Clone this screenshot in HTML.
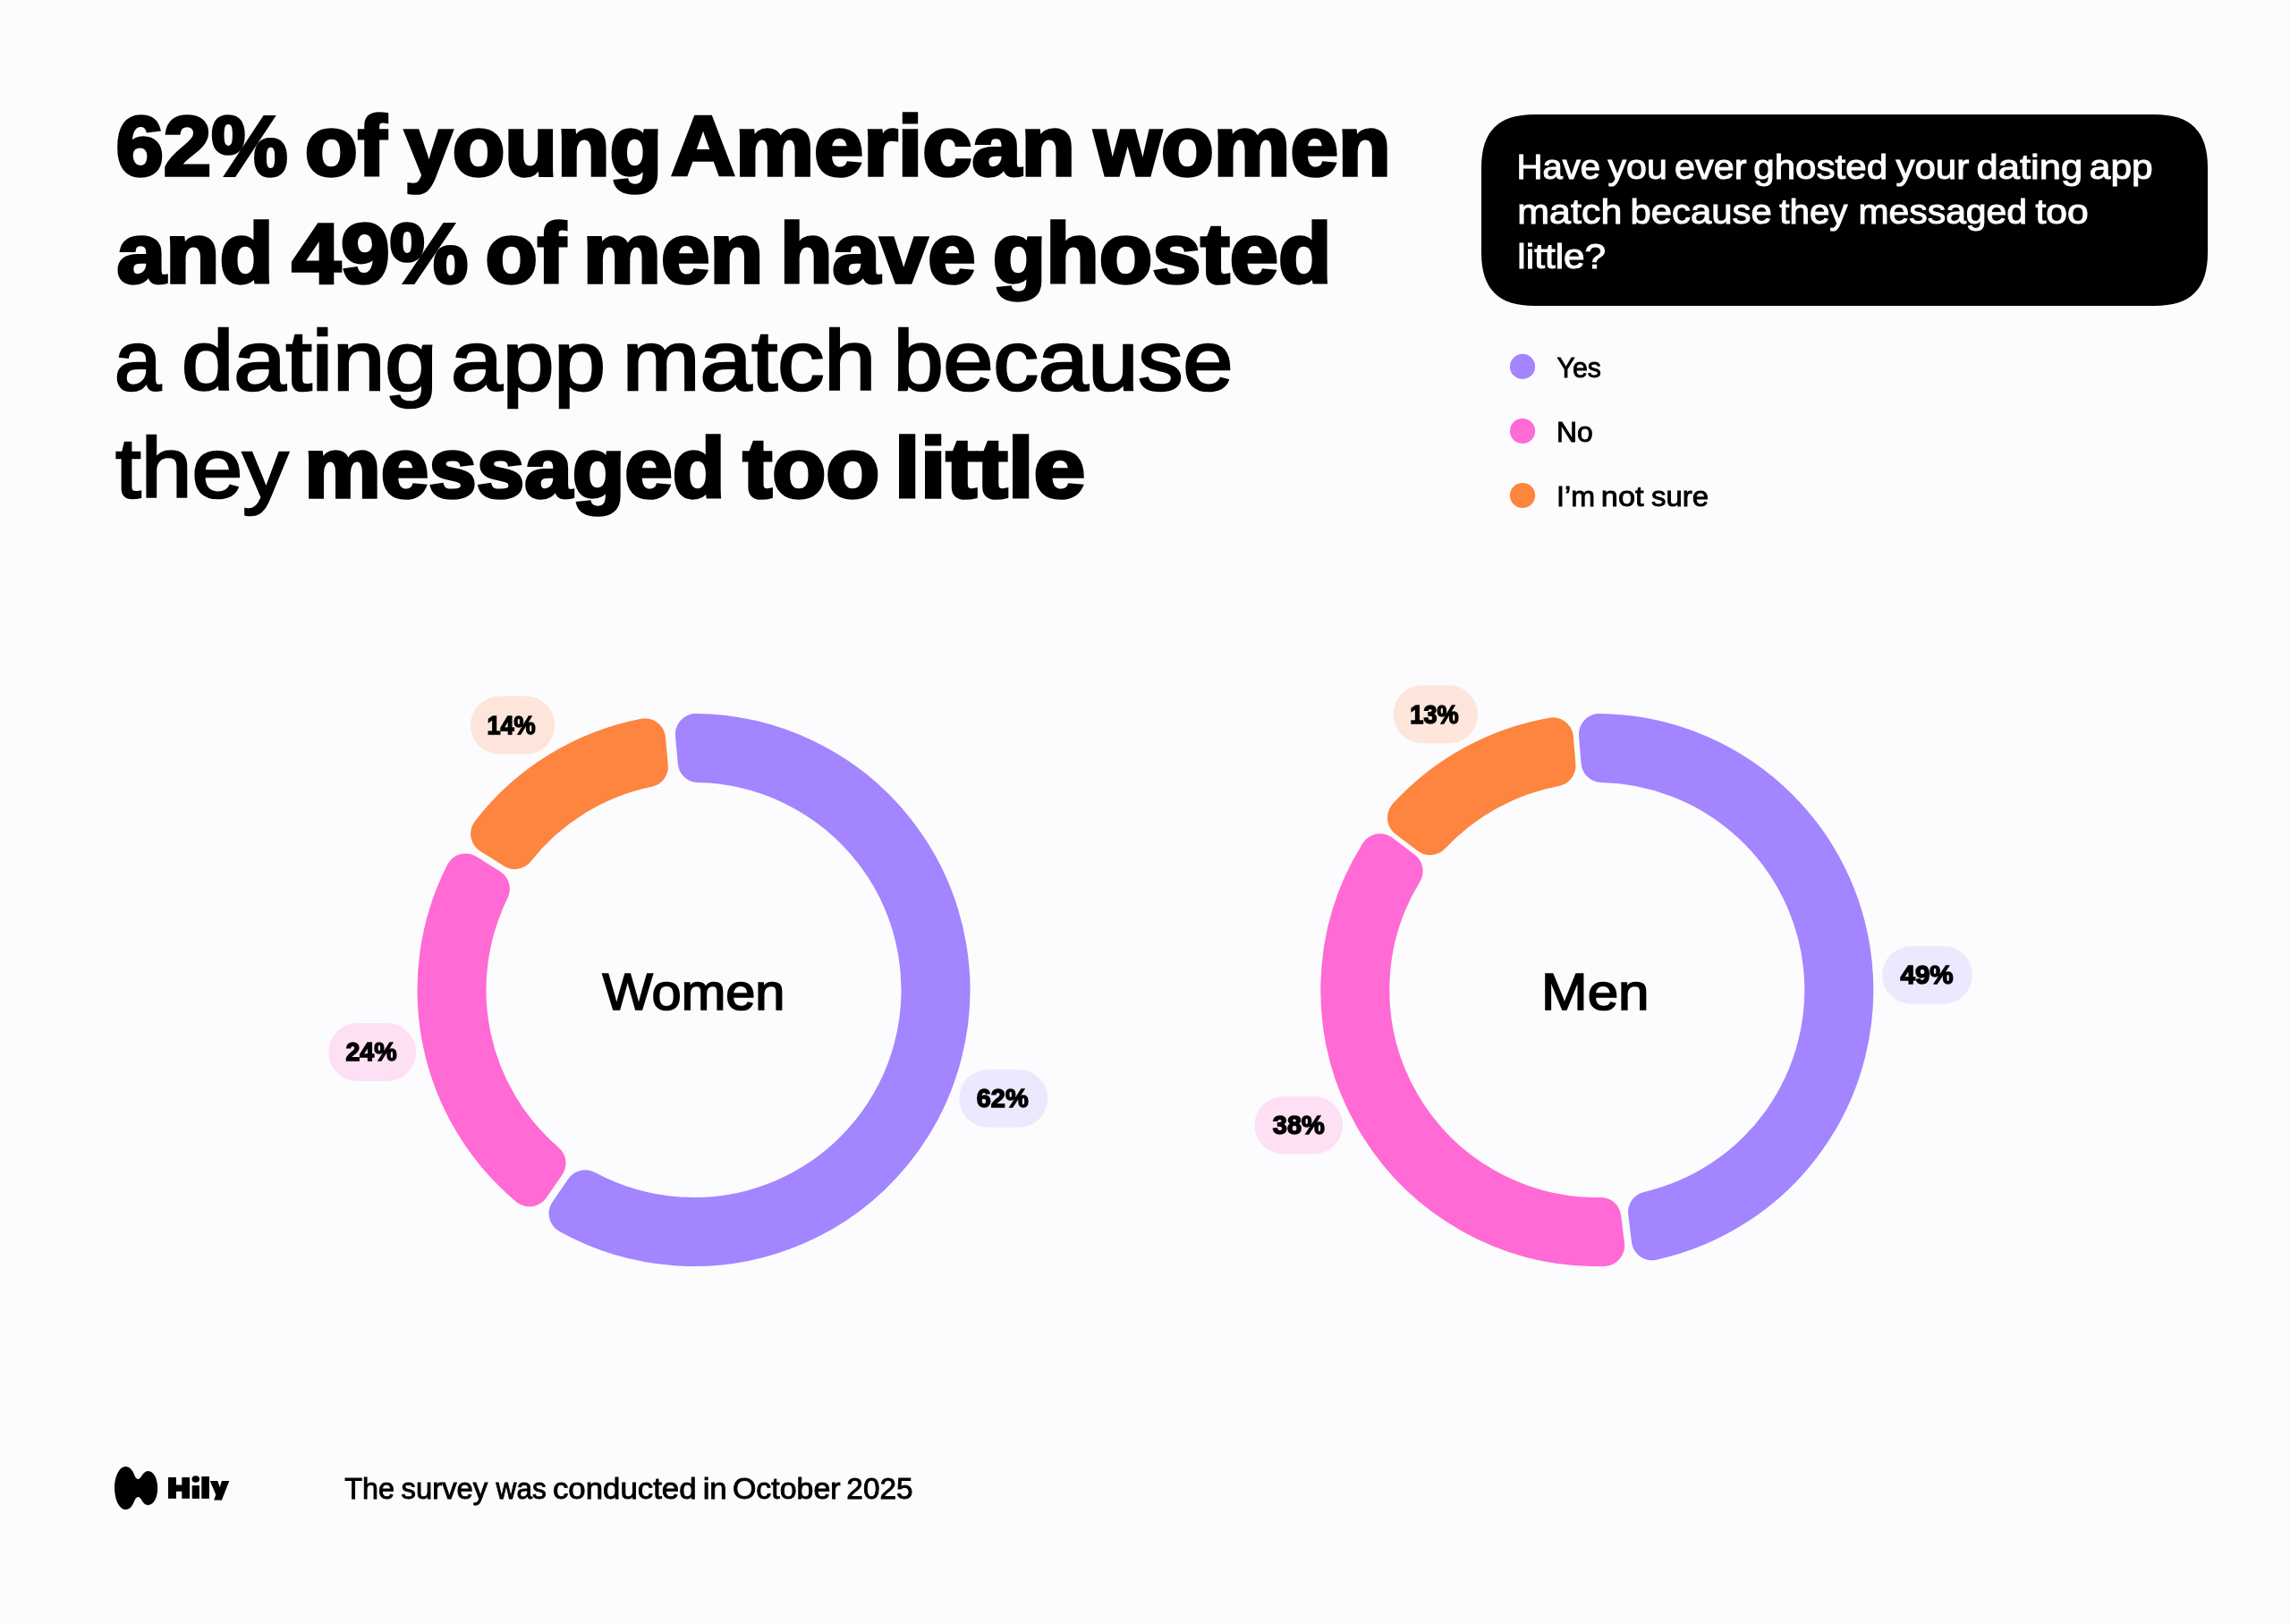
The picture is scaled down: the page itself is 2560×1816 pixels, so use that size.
<!DOCTYPE html>
<html lang="en"><head><meta charset="utf-8"><title>Hily survey</title>
<style>html,body{margin:0;padding:0;background:#fcfcfe;}body{width:2560px;height:1816px;overflow:hidden;font-family:"Liberation Sans",sans-serif;}svg text{white-space:pre;}</style></head>
<body>
<svg width="2560" height="1816" viewBox="0 0 2560 1816" font-family='"Liberation Sans", sans-serif' style="display:block;will-change:transform">
<rect width="2560" height="1816" fill="#fcfcfe"/>
<path d="M1656 187.5C1656 146.86 1674.86 128 1715.5 128L2408.5 128C2449.14 128 2468 146.86 2468 187.5L2468 282.5C2468 323.14 2449.14 342 2408.5 342L1715.5 342C1674.86 342 1656 323.14 1656 282.5Z" fill="#000"/>
<circle cx="1702.05" cy="409.9" r="14.1" fill="#a285ff"/>
<circle cx="1702.05" cy="482.0" r="14.1" fill="#ff6ad5"/>
<circle cx="1702.05" cy="554.0" r="14.1" fill="#fe853f"/>
<path d="M777.89 821.01A286.00 286.00 0 1 1 636.57 1356.99L654.22 1331.31A255.00 255.00 0 1 0 780.74 852.05Z" fill="#a285ff" stroke="#a285ff" stroke-width="46.0" stroke-linejoin="round"/>
<path d="M591.90 1326.29A286.00 286.00 0 0 1 520.54 977.41L546.88 994.06A255.00 255.00 0 0 0 609.55 1300.61Z" fill="#ff6ad5" stroke="#ff6ad5" stroke-width="46.0" stroke-linejoin="round"/>
<path d="M549.08 932.27A286.00 286.00 0 0 1 721.03 826.23L723.88 857.28A255.00 255.00 0 0 0 575.41 948.92Z" fill="#fe853f" stroke="#fe853f" stroke-width="46.0" stroke-linejoin="round"/>
<path d="M1787.98 821.01A286.00 286.00 0 0 1 1846.85 1386.30L1843.05 1355.37A255.00 255.00 0 0 0 1790.53 852.05Z" fill="#a285ff" stroke="#a285ff" stroke-width="46.0" stroke-linejoin="round"/>
<path d="M1793.15 1392.89A286.00 286.00 0 0 1 1542.88 955.26L1567.68 974.08A255.00 255.00 0 0 0 1789.35 1361.97Z" fill="#ff6ad5" stroke="#ff6ad5" stroke-width="46.0" stroke-linejoin="round"/>
<path d="M1573.95 914.31A286.00 286.00 0 0 1 1735.95 825.29L1738.50 856.33A255.00 255.00 0 0 0 1598.76 933.14Z" fill="#fe853f" stroke="#fe853f" stroke-width="46.0" stroke-linejoin="round"/>
<rect x="525.9" y="778.6" width="94.3" height="64.8" rx="32.4" fill="#fde5db"/>
<rect x="367.3" y="1144.1" width="97.9" height="64.8" rx="32.4" fill="#fde0f4"/>
<rect x="1072.2" y="1195.9" width="99.0" height="64.9" rx="32.4" fill="#ede8fd"/>
<rect x="1557.7" y="766.3" width="94.4" height="65.0" rx="32.5" fill="#fde5db"/>
<rect x="2104.1" y="1058.0" width="100.7" height="64.8" rx="32.4" fill="#ede8fd"/>
<rect x="1402.5" y="1225.9" width="98.6" height="64.6" rx="32.3" fill="#fde0f4"/>
<g fill="#000">
<path d="M140.3 1640.1C146.5 1640.1 149 1646.5 150.7 1650.5C152 1653.2 153.2 1653.9 154.5 1653.9C156.2 1653.9 157.5 1652 158.6 1650.1C160.5 1647 162.5 1645 165.9 1645C171.6 1645 176.2 1653.5 176.2 1664C176.2 1674.5 171.6 1683 165.9 1683C162.5 1683 160.5 1681 158.6 1677.9C157.5 1676 156.2 1674.1 154.5 1674.1C153.2 1674.1 152 1674.8 150.7 1677.5C149 1681.5 146.5 1688 140.3 1688C133.6 1688 128.1 1677.25 128.1 1664C128.1 1650.75 133.6 1640.1 140.3 1640.1Z"/>
<path d="M188 1652.1H196.95V1660.5H203.3V1652.1H212.1V1675.8H203.3V1667.7H196.95V1675.8H188Z"/>
<ellipse cx="218.75" cy="1654.1" rx="4.25" ry="3.75"/>
<rect x="214.7" y="1661.1" width="8.2" height="14.7"/>
<rect x="225.3" y="1651" width="8.6" height="24.8"/>
<path d="M234.8 1656H243.3L245.7 1662.9L247.9 1656H256.3L247.9 1677.6H239.1L241.3 1671.5Z"/>
</g>
<text transform="translate(129.47 196.00) scale(1.0211 1.0)" font-size="94" font-weight="700" fill="#000" stroke="#000" stroke-width="3.6" stroke-linejoin="miter" stroke-miterlimit="2.5">62%</text>
<text transform="translate(340.87 196.00) scale(1.0287 1.0)" font-size="94" font-weight="700" fill="#000" stroke="#000" stroke-width="3.6" stroke-linejoin="miter" stroke-miterlimit="2.5">of</text>
<text transform="translate(452.24 196.00) scale(1.0213 1.0)" font-size="94" font-weight="700" fill="#000" stroke="#000" stroke-width="3.6" stroke-linejoin="miter" stroke-miterlimit="2.5">young</text>
<text transform="translate(750.29 196.00) scale(1.0546 1.0)" font-size="94" font-weight="700" fill="#000" stroke="#000" stroke-width="3.6" stroke-linejoin="miter" stroke-miterlimit="2.5">American</text>
<text transform="translate(1223.17 196.00) scale(1.0242 1.0)" font-size="94" font-weight="700" fill="#000" stroke="#000" stroke-width="3.6" stroke-linejoin="miter" stroke-miterlimit="2.5">women</text>
<text transform="translate(130.49 315.50) scale(1.0484 1.0)" font-size="94" font-weight="700" fill="#000" stroke="#000" stroke-width="3.6" stroke-linejoin="miter" stroke-miterlimit="2.5">and</text>
<text transform="translate(326.14 315.50) scale(1.0473 1.0)" font-size="94" font-weight="700" fill="#000" stroke="#000" stroke-width="3.6" stroke-linejoin="miter" stroke-miterlimit="2.5">49%</text>
<text transform="translate(542.48 315.50) scale(1.0165 1.0)" font-size="94" font-weight="700" fill="#000" stroke="#000" stroke-width="3.6" stroke-linejoin="miter" stroke-miterlimit="2.5">of</text>
<text transform="translate(651.82 315.50) scale(1.0423 1.0)" font-size="94" font-weight="700" fill="#000" stroke="#000" stroke-width="3.6" stroke-linejoin="miter" stroke-miterlimit="2.5">men</text>
<text transform="translate(871.92 315.50) scale(1.0202 1.0)" font-size="94" font-weight="700" fill="#000" stroke="#000" stroke-width="3.6" stroke-linejoin="miter" stroke-miterlimit="2.5">have</text>
<text transform="translate(1109.66 315.50) scale(1.0363 1.0)" font-size="94" font-weight="700" fill="#000" stroke="#000" stroke-width="3.6" stroke-linejoin="miter" stroke-miterlimit="2.5">ghosted</text>
<text transform="translate(128.01 436.00) scale(0.9961 1.0)" font-size="94" font-weight="400" fill="#000" stroke="#000" stroke-width="2.6" stroke-linejoin="miter" stroke-miterlimit="2.5">a</text>
<text transform="translate(202.90 436.00) scale(1.1161 1.0)" font-size="94" font-weight="400" fill="#000" stroke="#000" stroke-width="2.6" stroke-linejoin="miter" stroke-miterlimit="2.5">dating</text>
<text transform="translate(504.02 436.00) scale(1.1022 1.0)" font-size="94" font-weight="400" fill="#000" stroke="#000" stroke-width="2.6" stroke-linejoin="miter" stroke-miterlimit="2.5">app</text>
<text transform="translate(695.70 436.00) scale(1.1072 1.0)" font-size="94" font-weight="400" fill="#000" stroke="#000" stroke-width="2.6" stroke-linejoin="miter" stroke-miterlimit="2.5">match</text>
<text transform="translate(998.68 436.00) scale(1.0688 1.0)" font-size="94" font-weight="400" fill="#000" stroke="#000" stroke-width="2.6" stroke-linejoin="miter" stroke-miterlimit="2.5">because</text>
<text transform="translate(129.33 555.50) scale(1.0855 1.0)" font-size="94" font-weight="400" fill="#000" stroke="#000" stroke-width="2.6" stroke-linejoin="miter" stroke-miterlimit="2.5">they</text>
<text transform="translate(340.20 555.50) scale(1.0232 1.0)" font-size="94" font-weight="700" fill="#000" stroke="#000" stroke-width="3.6" stroke-linejoin="miter" stroke-miterlimit="2.5">messaged</text>
<text transform="translate(830.54 555.50) scale(1.0460 1.0)" font-size="94" font-weight="700" fill="#000" stroke="#000" stroke-width="3.6" stroke-linejoin="miter" stroke-miterlimit="2.5">too</text>
<text transform="translate(999.76 555.50) scale(1.1058 1.0)" font-size="94" font-weight="700" fill="#000" stroke="#000" stroke-width="3.6" stroke-linejoin="miter" stroke-miterlimit="2.5">little</text>
<text transform="translate(1695.43 199.90) scale(1.0291 1.0)" font-size="39" font-weight="400" fill="#fff" stroke="#fff" stroke-width="1.0" stroke-linejoin="miter" stroke-miterlimit="2.5">Have</text>
<text transform="translate(1797.53 199.90) scale(1.0548 1.0)" font-size="39" font-weight="400" fill="#fff" stroke="#fff" stroke-width="1.0" stroke-linejoin="miter" stroke-miterlimit="2.5">you</text>
<text transform="translate(1871.97 199.90) scale(1.0609 1.0)" font-size="39" font-weight="400" fill="#fff" stroke="#fff" stroke-width="1.0" stroke-linejoin="miter" stroke-miterlimit="2.5">ever</text>
<text transform="translate(1960.26 199.90) scale(1.0803 1.0)" font-size="39" font-weight="400" fill="#fff" stroke="#fff" stroke-width="1.0" stroke-linejoin="miter" stroke-miterlimit="2.5">ghosted</text>
<text transform="translate(2119.44 199.90) scale(1.0783 1.0)" font-size="39" font-weight="400" fill="#fff" stroke="#fff" stroke-width="1.0" stroke-linejoin="miter" stroke-miterlimit="2.5">your</text>
<text transform="translate(2209.54 199.90) scale(1.1160 1.0)" font-size="39" font-weight="400" fill="#fff" stroke="#fff" stroke-width="1.0" stroke-linejoin="miter" stroke-miterlimit="2.5">dating</text>
<text transform="translate(2335.75 199.90) scale(1.0904 1.0)" font-size="39" font-weight="400" fill="#fff" stroke="#fff" stroke-width="1.0" stroke-linejoin="miter" stroke-miterlimit="2.5">app</text>
<text transform="translate(1696.35 250.10) scale(1.1013 1.0)" font-size="39" font-weight="400" fill="#fff" stroke="#fff" stroke-width="1.0" stroke-linejoin="miter" stroke-miterlimit="2.5">match</text>
<text transform="translate(1822.49 250.10) scale(1.0742 1.0)" font-size="39" font-weight="400" fill="#fff" stroke="#fff" stroke-width="1.0" stroke-linejoin="miter" stroke-miterlimit="2.5">because</text>
<text transform="translate(1989.22 250.10) scale(1.0357 1.0)" font-size="39" font-weight="400" fill="#fff" stroke="#fff" stroke-width="1.0" stroke-linejoin="miter" stroke-miterlimit="2.5">they</text>
<text transform="translate(2077.43 250.10) scale(1.0488 1.0)" font-size="39" font-weight="400" fill="#fff" stroke="#fff" stroke-width="1.0" stroke-linejoin="miter" stroke-miterlimit="2.5">messaged</text>
<text transform="translate(2275.45 250.10) scale(1.0949 1.0)" font-size="39" font-weight="400" fill="#fff" stroke="#fff" stroke-width="1.0" stroke-linejoin="miter" stroke-miterlimit="2.5">too</text>
<text transform="translate(1696.37 300.20) scale(1.0844 1.0)" font-size="39" font-weight="400" fill="#fff" stroke="#fff" stroke-width="1.0" stroke-linejoin="miter" stroke-miterlimit="2.5">little?</text>
<text transform="translate(1740.53 421.70) scale(0.9605 1.0)" font-size="31.5" font-weight="400" fill="#000" stroke="#000" stroke-width="0.9" stroke-linejoin="miter" stroke-miterlimit="2.5">Yes</text>
<text transform="translate(1740.03 494.00) scale(1.0117 1.0)" font-size="31.5" font-weight="400" fill="#000" stroke="#000" stroke-width="0.9" stroke-linejoin="miter" stroke-miterlimit="2.5">No</text>
<text transform="translate(1740.01 566.00) scale(1.0240 1.0)" font-size="31.5" font-weight="400" fill="#000" stroke="#000" stroke-width="0.9" stroke-linejoin="miter" stroke-miterlimit="2.5">I’m</text>
<text transform="translate(1789.81 566.00) scale(1.0900 1.0)" font-size="31.5" font-weight="400" fill="#000" stroke="#000" stroke-width="0.9" stroke-linejoin="miter" stroke-miterlimit="2.5">not</text>
<text transform="translate(1846.07 566.00) scale(1.0445 1.0)" font-size="31.5" font-weight="400" fill="#000" stroke="#000" stroke-width="0.9" stroke-linejoin="miter" stroke-miterlimit="2.5">sure</text>
<text transform="translate(673.42 1128.55) scale(1.0270 1.0)" font-size="58" font-weight="400" fill="#000" stroke="#000" stroke-width="1.7" stroke-linejoin="miter" stroke-miterlimit="2.5">Women</text>
<text transform="translate(1723.03 1128.60) scale(1.0683 1.0)" font-size="58" font-weight="400" fill="#000" stroke="#000" stroke-width="1.7" stroke-linejoin="miter" stroke-miterlimit="2.5">Men</text>
<text transform="translate(385.15 1675.80) scale(0.9959 1.0)" font-size="32.5" font-weight="400" fill="#000" stroke="#000" stroke-width="0.9" stroke-linejoin="miter" stroke-miterlimit="2.5">The</text>
<text transform="translate(448.55 1675.80) scale(1.0106 1.0)" font-size="32.5" font-weight="400" fill="#000" stroke="#000" stroke-width="0.9" stroke-linejoin="miter" stroke-miterlimit="2.5">survey</text>
<text transform="translate(554.61 1675.80) scale(0.9740 1.0)" font-size="32.5" font-weight="400" fill="#000" stroke="#000" stroke-width="0.9" stroke-linejoin="miter" stroke-miterlimit="2.5">was</text>
<text transform="translate(617.91 1675.80) scale(1.0717 1.0)" font-size="32.5" font-weight="400" fill="#000" stroke="#000" stroke-width="0.9" stroke-linejoin="miter" stroke-miterlimit="2.5">conducted</text>
<text transform="translate(785.64 1675.80) scale(1.0714 1.0)" font-size="32.5" font-weight="400" fill="#000" stroke="#000" stroke-width="0.9" stroke-linejoin="miter" stroke-miterlimit="2.5">in</text>
<text transform="translate(818.93 1675.80) scale(1.0434 1.0)" font-size="32.5" font-weight="400" fill="#000" stroke="#000" stroke-width="0.9" stroke-linejoin="miter" stroke-miterlimit="2.5">October</text>
<text transform="translate(946.34 1675.80) scale(1.0264 1.0)" font-size="32.5" font-weight="400" fill="#000" stroke="#000" stroke-width="0.9" stroke-linejoin="miter" stroke-miterlimit="2.5">2025</text>
<text transform="translate(544.47 821.00) scale(0.9189 1.0)" font-size="29.5" font-weight="700" fill="#000" stroke="#000" stroke-width="1.5" stroke-linejoin="miter" stroke-miterlimit="2.5">14%</text>
<text transform="translate(386.46 1186.35) scale(0.9677 1.0)" font-size="29.5" font-weight="700" fill="#000" stroke="#000" stroke-width="1.5" stroke-linejoin="miter" stroke-miterlimit="2.5">24%</text>
<text transform="translate(1091.75 1238.30) scale(0.9812 1.0)" font-size="29.5" font-weight="700" fill="#000" stroke="#000" stroke-width="1.5" stroke-linejoin="miter" stroke-miterlimit="2.5">62%</text>
<text transform="translate(1576.37 808.70) scale(0.9189 1.0)" font-size="29.5" font-weight="700" fill="#000" stroke="#000" stroke-width="1.5" stroke-linejoin="miter" stroke-miterlimit="2.5">13%</text>
<text transform="translate(2124.45 1100.45) scale(1.0014 1.0)" font-size="29.5" font-weight="700" fill="#000" stroke="#000" stroke-width="1.5" stroke-linejoin="miter" stroke-miterlimit="2.5">49%</text>
<text transform="translate(1422.84 1268.30) scale(0.9832 1.0)" font-size="29.5" font-weight="700" fill="#000" stroke="#000" stroke-width="1.5" stroke-linejoin="miter" stroke-miterlimit="2.5">38%</text>
</svg>
</body></html>
